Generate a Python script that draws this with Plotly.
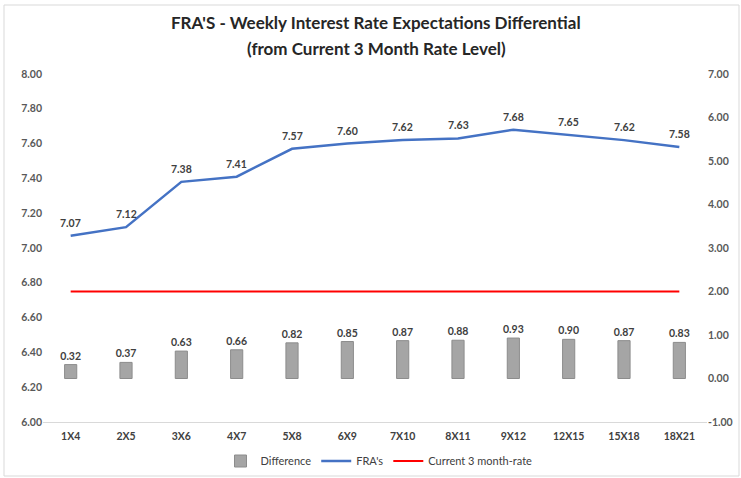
import plotly.graph_objects as go

categories = ["1X4", "2X5", "3X6", "4X7", "5X8", "6X9", "7X10", "8X11", "9X12", "12X15", "15X18", "18X21"]
fra = [7.07, 7.12, 7.38, 7.41, 7.57, 7.60, 7.62, 7.63, 7.68, 7.65, 7.62, 7.58]
difference = [0.32, 0.37, 0.63, 0.66, 0.82, 0.85, 0.87, 0.88, 0.93, 0.90, 0.87, 0.83]
current_rate = [6.75] * len(categories)
left_ticks = [6.0, 6.2, 6.4, 6.6, 6.8, 7.0, 7.2, 7.4, 7.6, 7.8, 8.0]
right_ticks = [-1, 0, 1, 2, 3, 4, 5, 6, 7]

FONT = "Lato"
lab_font = dict(family=FONT, size=10.5, color="#404040")

fig = go.Figure()
fig.add_trace(go.Bar(
    x=categories, y=difference, name="Difference", yaxis="y2",
    marker=dict(color="#A5A5A5", line=dict(color="#8C8C8C", width=1)),
    width=0.22,
    text=[f"<b>{v:.2f}</b>" for v in difference], textposition="outside",
    textfont=lab_font, cliponaxis=False, constraintext="none",
))
fig.add_trace(go.Scatter(
    x=categories, y=fra, name="FRA's", mode="lines",
    line=dict(color="#4472C4", width=2.5),
))
fig.add_trace(go.Scatter(
    x=categories, y=current_rate, name="Current 3 month-rate", mode="lines",
    line=dict(color="#FF0000", width=2),
))

W, H = 741, 478
L, R, T, B = 43, 34, 74, 56
ph = H - T - B
pw = W - L - R

def py(pix):
    return (H - B - pix) / ph

def px(pix):
    return (pix - L) / pw

annotations = [
    dict(x=c, y=v, xref="x", yref="y", text=f"<b>{v:.2f}</b>", showarrow=False,
         yshift=13, xanchor="center", yanchor="middle", font=lab_font)
    for c, v in zip(categories, fra)
]
annotations += [
    dict(text="<b>FRA'S - Weekly Interest Rate Expectations Differential</b>",
         xref="paper", yref="paper", x=px(376), y=py(23), showarrow=False,
         xanchor="center", yanchor="middle",
         font=dict(family=FONT, size=17, color="#262626")),
    dict(text="<b>(from Current 3 Month Rate Level)</b>",
         xref="paper", yref="paper", x=px(376), y=py(48), showarrow=False,
         xanchor="center", yanchor="middle",
         font=dict(family=FONT, size=17, color="#262626")),
]

tick_font = dict(family=FONT, size=10.5, color="#595959")

fig.update_layout(
    width=W, height=H,
    margin=dict(l=L, r=R, t=T, b=B, autoexpand=False),
    paper_bgcolor="white", plot_bgcolor="white",
    font=dict(family=FONT, size=10, color="#595959"),
    xaxis=dict(
        type="category", showgrid=False, showline=True, linecolor="#D9D9D9", linewidth=1,
        ticks="", tickfont=dict(family=FONT, size=10.5, color="#404040"),
        tickprefix="<b>", ticksuffix="</b>", ticklabelstandoff=4,
    ),
    yaxis=dict(
        range=[6.0, 8.0], tickvals=left_ticks, ticktext=[f"<b>{v:.2f}</b>" for v in left_ticks],
        showgrid=False, zeroline=False, showline=False, ticks="",
        tickfont=tick_font,
    ),
    yaxis2=dict(
        range=[-1.0, 7.0], tickvals=right_ticks,
        ticktext=[f"<b>{v:.2f}</b>" for v in right_ticks],
        showgrid=False, zeroline=False,
        overlaying="y", side="right", showline=False, ticks="",
        tickfont=tick_font,
    ),
    showlegend=True,
    legend=dict(
        orientation="h", x=px(379), xanchor="center", y=py(461), yanchor="middle",
        font=dict(family=FONT, size=11, color="#404040"), bgcolor="rgba(0,0,0,0)",
        itemwidth=30,
    ),
    annotations=annotations,
    shapes=[
        dict(type="rect", xref="paper", yref="paper",
             x0=px(4), x1=px(739), y0=py(476), y1=py(5),
             line=dict(color="#D9D9D9", width=1), fillcolor="rgba(0,0,0,0)", layer="below"),
    ],
)

fig.write_html(
    "out.html",
    config={"displayModeBar": False},
    post_script="document.body.style.margin='0px';document.body.style.overflow='hidden';",
)
